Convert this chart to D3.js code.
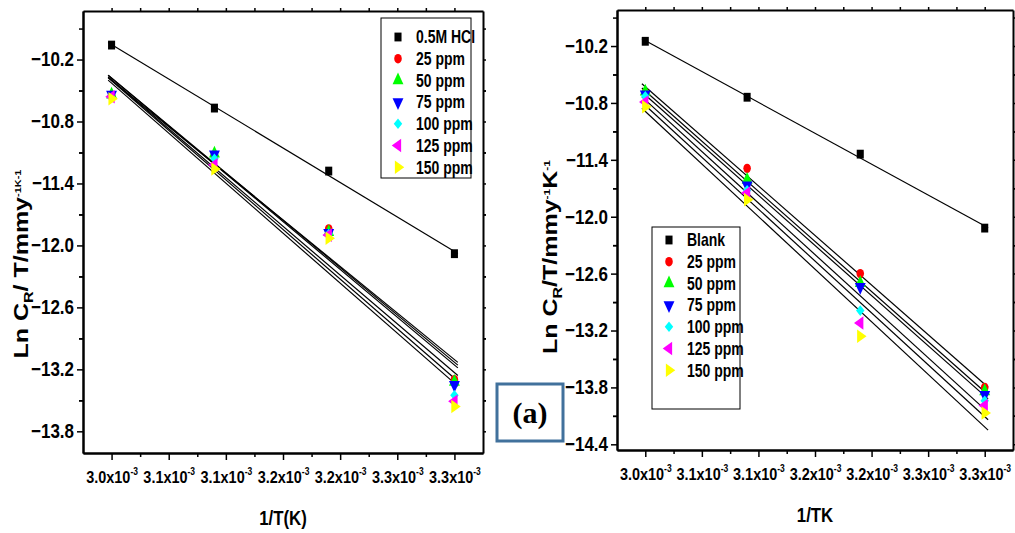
<!DOCTYPE html>
<html>
<head>
<meta charset="utf-8">
<script src="https://cdn.jsdelivr.net/npm/d3@7/dist/d3.min.js"></script>
<style>
  body { margin: 0; background: #fff; }
  svg { display: block; }
  text { font-family: "Liberation Sans", Arial, sans-serif; font-weight: bold; fill: #000; }
  .axis path, .axis line { stroke: #000; }
  .axis path { stroke-width: 2px; }
  .axis line { stroke-width: 1.5px; }
</style>
</head>
<body>
<svg id="chart" width="1015" height="533"></svg>
<script>

// 1/T (K^-1), shared by both panels
var invT = [0.00300, 0.00309, 0.00319, 0.00330];

// x ticks and their printed labels (mantissa of x10^-3)
var xTicks = [0.00300, 0.00305, 0.00310, 0.00315, 0.00320, 0.00325, 0.00330];
var xTickLabels = ["3.0", "3.1", "3.1", "3.2", "3.2", "3.3", "3.3"];

// left panel
var leftNames = ["0.5M HCl", "25 ppm", "50 ppm", "75 ppm", "100 ppm", "125 ppm", "150 ppm"];
var leftHCl = [-10.06, -10.67, -11.28, -12.08];
var left25 = [-10.55, -11.14, -11.84, -13.30];
var left50 = [-10.54, -11.11, -11.87, -13.32];
var left75 = [-10.54, -11.12, -11.88, -13.35];
var left100 = [-10.57, -11.16, -11.89, -13.45];
var left125 = [-10.56, -11.22, -11.90, -13.51];
var left150 = [-10.58, -11.26, -11.93, -13.56];
var leftYTicks = [-13.8, -13.2, -12.6, -12.0, -11.4, -10.8, -10.2];

// right panel
var rightNames = ["Blank", "25 ppm", "50 ppm", "75 ppm", "100 ppm", "125 ppm", "150 ppm"];
var rightBlank = [-10.15, -10.74, -11.34, -12.12];
var right25 = [-10.69, -11.49, -12.60, -13.80];
var right50 = [-10.68, -11.61, -12.70, -13.84];
var right75 = [-10.71, -11.67, -12.74, -13.88];
var right100 = [-10.73, -11.72, -12.99, -13.94];
var right125 = [-10.79, -11.75, -13.12, -13.99];
var right150 = [-10.84, -11.82, -13.26, -14.07];
var rightYTicks = [-14.4, -13.8, -13.2, -12.6, -12.0, -11.4, -10.8, -10.2];

// marker styles, one per series
var colors = ["#000000", "#ff0000", "#00ff00", "#0000ff", "#00ffff", "#ff00ff", "#ffff00"];
var shapes = ["square", "circle", "up", "down", "diamond", "left", "right"];

// the original figure is squeezed sideways, text and marks alike
var narrow = 0.8,
    tickNarrow = 0.85;

var svg = d3.select("#chart");

function symbolPath(kind) {
  var sym = d3.symbol();
  if (kind == "square") return sym.type(d3.symbolSquare).size(78)();
  if (kind == "circle") return sym.type(d3.symbolCircle).size(70)();
  if (kind == "diamond") return sym.type(d3.symbolSquare).size(56)();
  return sym.type(d3.symbolTriangle).size(80)();
}

function symbolTransform(kind, px, py) {
  var r = {down: 180, diamond: 45, left: -90, right: 90}[kind] || 0;
  return "translate(" + px + "," + py + ")scale(" + narrow + ",1)rotate(" + r + ")";
}

function fit(xs, ys) {
  var mx = d3.mean(xs), my = d3.mean(ys);
  var sxy = d3.sum(xs, (d, i) => (d - mx) * (ys[i] - my));
  var sxx = d3.sum(xs, d => (d - mx) * (d - mx));
  var b = sxy / sxx;
  return {b: b, a: my - b * mx};
}

function drawPanel(cfg) {

  var x = d3.scaleLinear().domain([0.002975, 0.003325]).range([cfg.left, cfg.right]);
  var y = d3.scaleLinear().domain(cfg.yDomain).range([cfg.bottom, cfg.top]);
  var g = svg.append("g");

  // minor ticks halfway between majors
  var xMinor = xTicks.slice(1).map((d, i) => (d + xTicks[i]) / 2);
  var yMinor = cfg.yTicks.map(d => d + 0.3).concat(cfg.yTicks.map(d => d - 0.3))
    .filter(d => d > cfg.yDomain[0] && d < cfg.yDomain[1] && cfg.yTicks.indexOf(+d.toFixed(1)) < 0);

  // frame: bottom / left carry labels, top / right only ticks
  var xaxis = g.append("g").attr("class", "axis")
    .attr("transform", "translate(0," + cfg.bottom + ")")
    .call(d3.axisBottom(x).tickValues(xTicks).tickSize(7).tickSizeOuter(0).tickFormat(() => ""));
  g.append("g").attr("class", "axis")
    .attr("transform", "translate(0," + cfg.bottom + ")")
    .call(d3.axisBottom(x).tickValues(xMinor).tickSize(4).tickSizeOuter(0).tickFormat(() => ""));
  g.append("g").attr("class", "axis")
    .attr("transform", "translate(0," + cfg.top + ")")
    .call(d3.axisTop(x).tickValues(xTicks.concat(xMinor)).tickSize(3).tickSizeOuter(0).tickFormat(() => ""));

  g.append("g").attr("class", "axis")
    .attr("transform", "translate(" + cfg.left + ",0)")
    .call(d3.axisLeft(y).tickValues(cfg.yTicks).tickSize(6).tickSizeOuter(0).tickFormat(d3.format(".1f")))
    .selectAll("text")
      .attr("x", -9 / tickNarrow)
      .attr("transform", "scale(" + tickNarrow + ",1)")
      .style("font-size", "20px");
  g.append("g").attr("class", "axis")
    .attr("transform", "translate(" + cfg.left + ",0)")
    .call(d3.axisLeft(y).tickValues(yMinor).tickSize(4).tickSizeOuter(0).tickFormat(() => ""));
  g.append("g").attr("class", "axis")
    .attr("transform", "translate(" + cfg.right + ",0)")
    .call(d3.axisRight(y).tickValues(cfg.yTicks.concat(yMinor)).tickSize(3).tickSizeOuter(0).tickFormat(() => ""));

  // x tick labels like 3.0x10^-3
  var lab = xaxis.selectAll(".tick").append("text")
    .attr("y", 30)
    .attr("text-anchor", "middle")
    .attr("transform", "scale(" + tickNarrow + ",1)")
    .style("font-size", "17px")
    .attr("fill", "#000");
  lab.append("tspan").text((d, i) => xTickLabels[i] + "x10");
  lab.append("tspan").attr("dy", -8).style("font-size", "10px").text("-3");

  // fitted lines
  var lx = [d3.min(invT) - 0.000003, d3.max(invT) + 0.000003];
  cfg.series.forEach(function(s) {
    var f = fit(invT, s);
    g.append("line")
      .attr("x1", x(lx[0])).attr("y1", y(f.a + f.b * lx[0]))
      .attr("x2", x(lx[1])).attr("y2", y(f.a + f.b * lx[1]))
      .attr("stroke", "#000")
      .attr("stroke-width", 1.2);
  });

  // points
  cfg.series.forEach(function(s, k) {
    g.selectAll(null)
      .data(s)
      .enter().append("path")
      .attr("d", symbolPath(shapes[k]))
      .attr("transform", (d, i) => symbolTransform(shapes[k], x(invT[i]), y(d)))
      .attr("fill", colors[k]);
  });

  // legend
  var lg = g.append("g").attr("transform", "translate(" + cfg.legend[0] + "," + cfg.legend[1] + ")");
  lg.append("rect")
    .attr("width", cfg.legend[2]).attr("height", cfg.legend[3])
    .attr("fill", "#fff").attr("stroke", "#000").attr("stroke-width", 1);
  cfg.names.forEach(function(n, k) {
    var row = lg.append("g").attr("transform", "translate(0," + (cfg.legend[4] + k * 21.7) + ")");
    row.append("path")
      .attr("d", symbolPath(shapes[k]))
      .attr("transform", symbolTransform(shapes[k], 17, 0))
      .attr("fill", colors[k]);
    row.append("text")
      .attr("transform", "translate(35,0)scale(" + narrow + ",1)")
      .attr("dy", "0.36em")
      .style("font-size", "17.5px")
      .text(n);
  });

  // axis titles
  g.append("text")
    .attr("transform", "translate(" + cfg.xTitle[0] + "," + cfg.xTitle[1] + ")scale(" + narrow + ",1)")
    .attr("text-anchor", "middle")
    .style("font-size", "21px")
    .text(cfg.xLabel);

  var yt = g.append("text")
    .attr("transform", "translate(" + cfg.yTitle[0] + "," + cfg.yTitle[1] + ")rotate(-90)scale(1," + narrow + ")")
    .attr("text-anchor", "middle")
    .style("font-size", "25px");
  cfg.yLabel.forEach(function(p) {
    yt.append("tspan")
      .attr("dy", p[1])
      .style("font-size", p[2] + "px")
      .text(p[0]);
  });
}

drawPanel({
  left: 83, right: 483, top: 11, bottom: 453,
  yDomain: [-14.01, -9.73], yTicks: leftYTicks,
  series: [leftHCl, left25, left50, left75, left100, left125, left150],
  names: leftNames,
  legend: [381, 18, 90, 160, 19],
  xLabel: "1/T(K)", xTitle: [283, 525],
  yLabel: [["Ln C", 0, 25], ["R", 6, 16], ["/ T/mmy", -6, 25], ["-1K-1", -9, 11]],
  yTitle: [28, 264]
});

drawPanel({
  left: 617, right: 1013, top: 10, bottom: 450,
  yDomain: [-14.46, -9.82], yTicks: rightYTicks,
  series: [rightBlank, right25, right50, right75, right100, right125, right150],
  names: rightNames,
  legend: [652, 227, 88, 182, 13],
  xLabel: "1/TK", xTitle: [815, 522],
  yLabel: [["Ln C", 0, 25], ["R", 6, 16], ["/T/mmy", -6, 25], ["-1", -9, 12], ["K", 9, 25], ["-1", -9, 12]],
  yTitle: [557, 257]
});

// panel tag
svg.append("rect")
  .attr("x", 497).attr("y", 384).attr("width", 66).attr("height", 57)
  .attr("fill", "#fff").attr("stroke", "#41719c").attr("stroke-width", 3);
svg.append("text")
  .attr("x", 530).attr("y", 423)
  .attr("text-anchor", "middle")
  .style("font-family", "'Liberation Serif', 'Times New Roman', serif")
  .style("font-size", "30px")
  .text("(a)");

</script>
</body>
</html>
